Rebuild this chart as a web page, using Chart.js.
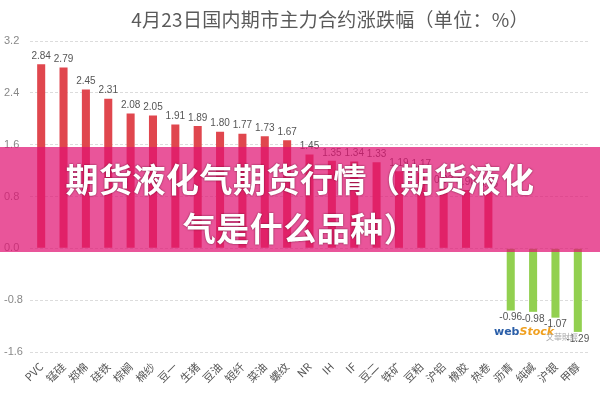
<!DOCTYPE html>
<html>
<head>
<meta charset="utf-8">
<script src="https://cdn.jsdelivr.net/npm/chart.js@4.4.0/dist/chart.umd.min.js"></script>
<style>
  body { margin: 0; background: #fff; }
  #wrap { position: relative; width: 600px; height: 400px; overflow: hidden; font-family: "Noto Sans CJK SC", "Noto Sans", sans-serif; }
  #titulo { position: absolute; left: 60px; right: 0; top: 5px; text-align: center; font-size: 19px; letter-spacing: 0.3px; color: #5a5a5a; }
  #banda { position: absolute; left: 0; top: 147px; width: 600px; height: 105px; background: rgba(225, 20, 115, 0.72); }
  #banda div { position: absolute; left: 0; width: 600px; text-align: center; color: #fff; font-weight: bold; font-size: 33px; letter-spacing: 0.5px; text-shadow: 0 0 2px rgba(80,0,30,0.8); }
  #marca { position: absolute; left: 494px; top: 325px; font-size: 11px; font-weight: bold; font-family: "DejaVu Sans", sans-serif; }
  #marca .w { color: #2a5ea8; }
  #marca .s { color: #f0a020; font-style: italic; }
  #marca .c { position: absolute; left: 52px; top: 6px; white-space: nowrap; color: #aaa; font-size: 8px; font-weight: normal; font-family: "Noto Sans CJK TC", sans-serif; }
</style>
</head>
<body>
<div id="wrap">
  <canvas id="grafica" width="600" height="400"></canvas>
  <div id="titulo">4月23日国内期市主力合约涨跌幅（单位：%）</div>
  <div id="banda">
    <div style="top: 7px;">期货液化气期货行情（期货液化</div>
    <div style="top: 56px;">气是什么品种）</div>
  </div>
  <div id="marca"><span class="w">web</span><span class="s">Stock</span><span class="c">文華財經</span></div>
</div>
<script>
const categorias = ['PVC', '锰硅', '郑棉', '硅铁', '棕榈', '棉纱', '豆一', '生猪', '豆油', '短纤', '菜油', '螺纹', 'NR',
    'IH', 'IF', '豆二', '铁矿', '豆粕', '沪铝', '橡胶', '热卷', '沥青', '纯碱', '沪银', '甲醇'];
const cambios = [2.84, 2.79, 2.45, 2.31, 2.08, 2.05, 1.91, 1.89, 1.80, 1.77, 1.73, 1.67, 1.45,
    1.35, 1.34, 1.33, 1.19, 1.17, 0.93, 0.90, 0.86, -0.96, -0.98, -1.07, -1.29];
const ticksY = [3.2, 2.4, 1.6, 0.8, 0.0, -0.8, -1.6];

const colores = cambios.map(v => v >= 0 ? '#e0474e' : '#92d050');

// etiquetas de valor encima / debajo de cada barra
const etiquetas = {
    id: 'etiquetas',
    afterDatasetsDraw(chart) {
        const ctx = chart.ctx;
        const meta = chart.getDatasetMeta(0);
        ctx.save();
        ctx.font = '10px "Liberation Sans", sans-serif';
        ctx.fillStyle = '#555';
        ctx.textAlign = 'center';
        meta.data.forEach((bar, i) => {
            const v = cambios[i];
            if (v >= 0) {
                ctx.textBaseline = 'bottom';
                ctx.fillText(v.toFixed(2), bar.x, bar.y - 3);
            } else {
                ctx.textBaseline = 'top';
                ctx.fillText(v.toFixed(2), bar.x, bar.y + 2);
            }
        });
        ctx.restore();
    }
};

const config = {
    type: 'bar',
    data: {
        labels: categorias,
        datasets: [{
            data: cambios,
            backgroundColor: colores,
            barPercentage: 0.36,
            categoryPercentage: 1
        }]
    },
    options: {
        responsive: false,
        animation: false,
        layout: { padding: { left: 4, right: 11, top: 41, bottom: 0 } },
        plugins: { legend: { display: false }, tooltip: { enabled: false } },
        scales: {
            x: {
                grid: { display: false },
                border: { display: false },
                ticks: {
                    color: '#555',
                    font: { size: 11, family: '"Noto Sans CJK SC", sans-serif' },
                    minRotation: 45, maxRotation: 45,
                    autoSkip: false,
                    padding: 0
                },
                afterFit(scale) { scale.height = 48; }
            },
            y: {
                min: -1.6, max: 3.2,
                afterBuildTicks(scale) { scale.ticks = ticksY.map(v => ({ value: v })); },
                grid: { color: '#dcdcdc', drawTicks: false },
                border: { display: false, dash: [3, 2] },
                ticks: {
                    color: '#888',
                    font: { size: 11, family: '"Liberation Sans", sans-serif' },
                    crossAlign: 'far',
                    callback: v => v.toFixed(1)
                },
                afterFit(scale) { scale.width = 26; }
            }
        }
    },
    plugins: [etiquetas]
};

new Chart(document.getElementById('grafica'), config);
</script>
</body>
</html>
